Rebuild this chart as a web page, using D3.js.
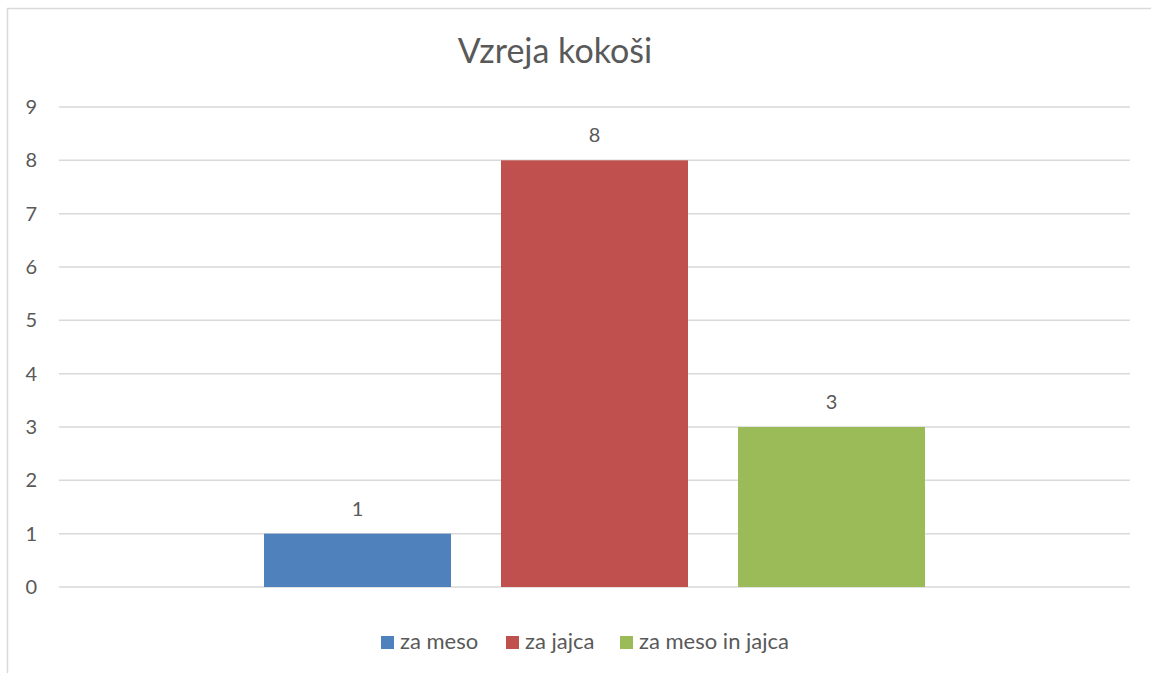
<!DOCTYPE html>
<html>
<head>
<meta charset="utf-8">
<script src="https://cdn.jsdelivr.net/npm/d3@7"></script>
<style>
  body { margin: 0; background: #fff; }
  text { font-family: Lato, "Open Sans", sans-serif; fill: #595959; }
</style>
</head>
<body>
<div id="chart"></div>
<script>
// chart data
var title = "Vzreja kokoši";
var series = ["za meso", "za jajca", "za meso in jajca"];
var values = [1, 8, 3];
var colors = ["#4F81BD", "#C0504D", "#9BBB59"];
var yTicks = [0, 1, 2, 3, 4, 5, 6, 7, 8, 9];

// size and plot area
var svgWidth = 1151;
var svgHeight = 673;

var plot = { left: 59, right: 1130, top: 107, bottom: 587 };

var svg = d3.select("#chart")
  .append("svg")
  .attr("width", svgWidth)
  .attr("height", svgHeight);

// chart border (runs off the picture to the right and bottom)
svg.append("rect")
  .attr("x", 7.5)
  .attr("y", 8.5)
  .attr("width", 1200)
  .attr("height", 700)
  .attr("fill", "none")
  .attr("stroke", "#D9D9D9")
  .attr("stroke-width", 1.5);

// scales
var yScale = d3.scaleLinear()
  .domain([0, 9])
  .range([plot.bottom, plot.top]);

var xScale = d3.scaleBand()
  .domain(series)
  .range([plot.left, plot.right])
  .paddingInner(50 / 237)
  .paddingOuter(0.865);

// gridlines
svg.append("g")
  .selectAll("line")
  .data(yTicks)
  .enter()
  .append("line")
  .attr("x1", plot.left)
  .attr("x2", plot.right)
  .attr("y1", d => yScale(d))
  .attr("y2", d => yScale(d))
  .attr("stroke", "#D9D9D9")
  .attr("stroke-width", 1.5);

// y axis labels
var yAxis = svg.append("g")
  .attr("transform", `translate(${plot.left}, 0)`)
  .call(d3.axisLeft(yScale).tickValues(yTicks).tickSize(0).tickPadding(22));

yAxis.select(".domain").remove();
yAxis.selectAll("text")
  .attr("font-size", "20px")
  .attr("font-family", "Lato, 'Open Sans', sans-serif")
  .attr("fill", "#595959");

// bars
svg.append("g")
  .selectAll("rect")
  .data(values)
  .enter()
  .append("rect")
  .attr("x", (d, i) => xScale(series[i]))
  .attr("y", d => yScale(d))
  .attr("width", xScale.bandwidth())
  .attr("height", d => yScale(0) - yScale(d))
  .attr("fill", (d, i) => colors[i]);

// value labels
svg.append("g")
  .selectAll("text")
  .data(values)
  .enter()
  .append("text")
  .attr("x", (d, i) => xScale(series[i]) + xScale.bandwidth() / 2)
  .attr("y", d => yScale(d) - 18)
  .attr("text-anchor", "middle")
  .attr("font-size", "20px")
  .text(d => d);

// title
svg.append("text")
  .attr("x", 555)
  .attr("y", 63)
  .attr("text-anchor", "middle")
  .attr("font-size", "34px")
  .text(title);

// legend
var legendX = [381, 506, 620];
var legend = svg.append("g")
  .selectAll("g")
  .data(series)
  .enter()
  .append("g")
  .attr("transform", (d, i) => `translate(${legendX[i]}, 636)`);

legend.append("rect")
  .attr("width", 13)
  .attr("height", 13)
  .attr("fill", (d, i) => colors[i]);

legend.append("text")
  .attr("x", 19)
  .attr("y", 13)
  .attr("font-size", "22px")
  .text(d => d);
</script>
</body>
</html>
